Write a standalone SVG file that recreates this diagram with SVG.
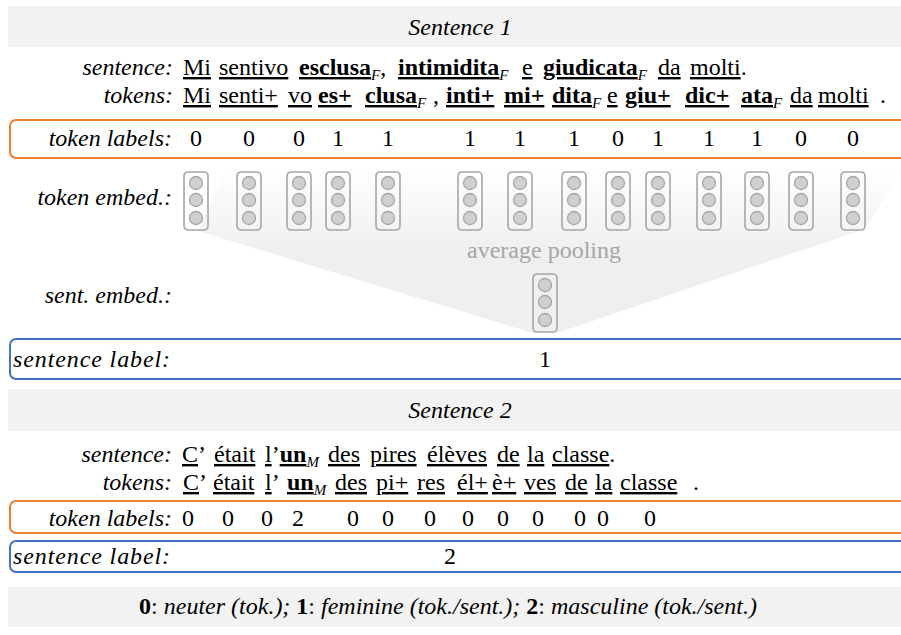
<svg xmlns="http://www.w3.org/2000/svg" width="901" height="635" viewBox="0 0 901 635" font-family="'Liberation Serif', 'Times New Roman', 'DejaVu Serif', serif">
  <style>
    text { font-family: 'Liberation Serif', 'Times New Roman', 'DejaVu Serif', serif; }
    .t { font-size: 24px; fill: #000; }
    .i { font-style: italic; }
    .b { font-weight: bold; }
    .u { text-decoration: underline; }
    .sub { font-size: 15px; font-style: italic; }
    .lab { text-anchor: end; font-style: italic; }
    .mid { text-anchor: middle; }
    .band { fill: #f2f2f2; }
    .tokbox { fill: none; stroke: #ed7d31; stroke-width: 2; }
    .sentbox { fill: none; stroke: #4472c4; stroke-width: 2; }
    .vbox { fill: none; stroke: #a6a6a6; stroke-width: 1.6; }
    .unit { fill: #d0d0d0; stroke: #a6a6a6; stroke-width: 1.3; }
    .pool { fill: #a6a6a6; }
  </style>
  <defs>
    <linearGradient id="poolFade" x1="0" y1="168" x2="0" y2="250" gradientUnits="userSpaceOnUse">
      <stop offset="0" stop-color="#efefef" stop-opacity="0"/>
      <stop offset="1" stop-color="#efefef"/>
    </linearGradient>
    <g id="vec">
      <rect x="0" y="0" width="24" height="58" rx="4" class="vbox"/>
      <circle cx="12" cy="11" r="6.5" class="unit"/>
      <circle cx="12" cy="28" r="6.5" class="unit"/>
      <circle cx="12" cy="46" r="6.5" class="unit"/>
    </g>
  </defs>

  <rect width="901" height="635" fill="#ffffff"/>

  <!-- pooling funnel from token embeddings down to the sentence embedding -->
  <g id="connectors">
    <polygon points="226,170 901,170 865,229 557,333 533,333 198,231" fill="url(#poolFade)"/>
  </g>

  <!-- ===== Sentence 1 ===== -->
  <g id="s1-header">
    <rect x="8" y="6" width="893" height="41" class="band"/>
    <text class="t i mid" x="460" y="35">Sentence 1</text>
  </g>

  <g id="s1-sentence">
    <text class="t lab" x="173" y="75">sentence:</text>
    <text class="t" y="75"><tspan x="183" class="u">Mi</tspan><tspan x="219" class="u">sentivo</tspan><tspan x="299" class="u b">esclusa</tspan><tspan class="sub" y="80">F</tspan><tspan y="75">,</tspan><tspan x="398" class="u b">intimidita</tspan><tspan class="sub" y="80">F</tspan><tspan x="522" y="75" class="u">e</tspan><tspan x="543" class="u b">giudicata</tspan><tspan class="sub" y="80">F</tspan><tspan x="658" y="75" class="u">da</tspan><tspan x="690" class="u">molti</tspan><tspan>.</tspan></text>
  </g>

  <g id="s1-tokens">
    <text class="t lab" x="173" y="103">tokens:</text>
    <text class="t" y="103"><tspan x="183" class="u">Mi</tspan><tspan x="219" class="u">senti+</tspan><tspan x="288" class="u">vo</tspan><tspan x="318" class="u b">es+</tspan><tspan x="365" class="u b">clusa</tspan><tspan class="sub" y="108">F</tspan><tspan x="433" y="103">,</tspan><tspan x="446" class="u b">inti+</tspan><tspan x="504" class="u b">mi+</tspan><tspan x="552" class="u b">dita</tspan><tspan class="sub" y="108">F</tspan><tspan x="607" y="103" class="u">e</tspan><tspan x="625" class="u b">giu+</tspan><tspan x="685" class="u b">dic+</tspan><tspan x="741" class="u b">ata</tspan><tspan class="sub" y="108">F</tspan><tspan x="790" y="103" class="u">da</tspan><tspan x="818" class="u">molti</tspan><tspan x="880">.</tspan></text>
  </g>

  <g id="s1-token-labels">
    <rect x="10" y="120" width="900" height="38" rx="6" class="tokbox"/>
    <text class="t lab" x="172" y="146">token labels:</text>
    <text class="t mid" y="146"><tspan x="196">0</tspan><tspan x="249">0</tspan><tspan x="299">0</tspan><tspan x="338">1</tspan><tspan x="388">1</tspan><tspan x="470">1</tspan><tspan x="520">1</tspan><tspan x="574">1</tspan><tspan x="618">0</tspan><tspan x="658">1</tspan><tspan x="709">1</tspan><tspan x="757">1</tspan><tspan x="801">0</tspan><tspan x="853">0</tspan></text>
  </g>

  <g id="s1-token-embeddings">
    <text class="t lab" x="172" y="205">token embed.:</text>
    <use href="#vec" x="184" y="172"/>
    <use href="#vec" x="237" y="172"/>
    <use href="#vec" x="287" y="172"/>
    <use href="#vec" x="326" y="172"/>
    <use href="#vec" x="376" y="172"/>
    <use href="#vec" x="458" y="172"/>
    <use href="#vec" x="508" y="172"/>
    <use href="#vec" x="562" y="172"/>
    <use href="#vec" x="606" y="172"/>
    <use href="#vec" x="646" y="172"/>
    <use href="#vec" x="697" y="172"/>
    <use href="#vec" x="745" y="172"/>
    <use href="#vec" x="789" y="172"/>
    <use href="#vec" x="841" y="172"/>
  </g>

  <g id="s1-pooling">
    <text class="t pool mid" x="544" y="258">average pooling</text>
  </g>

  <g id="s1-sentence-embedding">
    <text class="t lab" x="172" y="303">sent. embed.:</text>
    <use href="#vec" x="533" y="274"/>
  </g>

  <g id="s1-sentence-label">
    <rect x="10" y="339" width="900" height="40" rx="6" class="sentbox"/>
    <text class="t i" x="13" y="367" textLength="157" lengthAdjust="spacing">sentence label:</text>
    <text class="t mid" x="545" y="367">1</text>
  </g>

  <!-- ===== Sentence 2 ===== -->
  <g id="s2-header">
    <rect x="8" y="389" width="893" height="42" class="band"/>
    <text class="t i mid" x="460" y="418">Sentence 2</text>
  </g>

  <g id="s2-sentence">
    <text class="t lab" x="172" y="462">sentence:</text>
    <text class="t" y="462"><tspan x="182" class="u">C</tspan><tspan>’</tspan><tspan x="214" class="u">était</tspan><tspan x="265" class="u">l</tspan><tspan>’</tspan><tspan class="u b">un</tspan><tspan class="sub" y="467">M</tspan><tspan x="328" y="462" class="u">des</tspan><tspan x="370" class="u">pires</tspan><tspan x="427" class="u">élèves</tspan><tspan x="497" class="u">de</tspan><tspan x="527" class="u">la</tspan><tspan x="552" class="u">classe</tspan><tspan>.</tspan></text>
  </g>

  <g id="s2-tokens">
    <text class="t lab" x="172" y="490">tokens:</text>
    <text class="t" y="490"><tspan x="183" class="u">C</tspan><tspan>’</tspan><tspan x="213" class="u">était</tspan><tspan x="265" class="u">l</tspan><tspan>’</tspan><tspan x="287" class="u b">un</tspan><tspan class="sub" y="495">M</tspan><tspan x="335" y="490" class="u">des</tspan><tspan x="376" class="u">pi+</tspan><tspan x="417" class="u">res</tspan><tspan x="457" class="u">él+</tspan><tspan x="492" class="u">è+</tspan><tspan x="524" class="u">ves</tspan><tspan x="565" class="u">de</tspan><tspan x="595" class="u">la</tspan><tspan x="620" class="u">classe</tspan><tspan x="693">.</tspan></text>
  </g>

  <g id="s2-token-labels">
    <rect x="10" y="501" width="900" height="32" rx="6" class="tokbox"/>
    <text class="t lab" x="172" y="526">token labels:</text>
    <text class="t mid" y="526"><tspan x="188">0</tspan><tspan x="228">0</tspan><tspan x="267">0</tspan><tspan x="298">2</tspan><tspan x="353">0</tspan><tspan x="388">0</tspan><tspan x="430">0</tspan><tspan x="468">0</tspan><tspan x="503">0</tspan><tspan x="538">0</tspan><tspan x="580">0</tspan><tspan x="603">0</tspan><tspan x="650">0</tspan></text>
  </g>

  <g id="s2-sentence-label">
    <rect x="10" y="541" width="900" height="31" rx="6" class="sentbox"/>
    <text class="t i" x="13" y="564" textLength="157" lengthAdjust="spacing">sentence label:</text>
    <text class="t mid" x="450" y="564">2</text>
  </g>

  <!-- legend -->
  <g id="legend">
    <rect x="8" y="587" width="893" height="40" class="band"/>
    <text class="t mid" x="448" y="614"><tspan class="b">0</tspan>: <tspan class="i">neuter (tok.);</tspan> <tspan class="b">1</tspan>: <tspan class="i">feminine (tok./sent.);</tspan> <tspan class="b">2</tspan>: <tspan class="i">masculine (tok./sent.)</tspan></text>
  </g>
</svg>
